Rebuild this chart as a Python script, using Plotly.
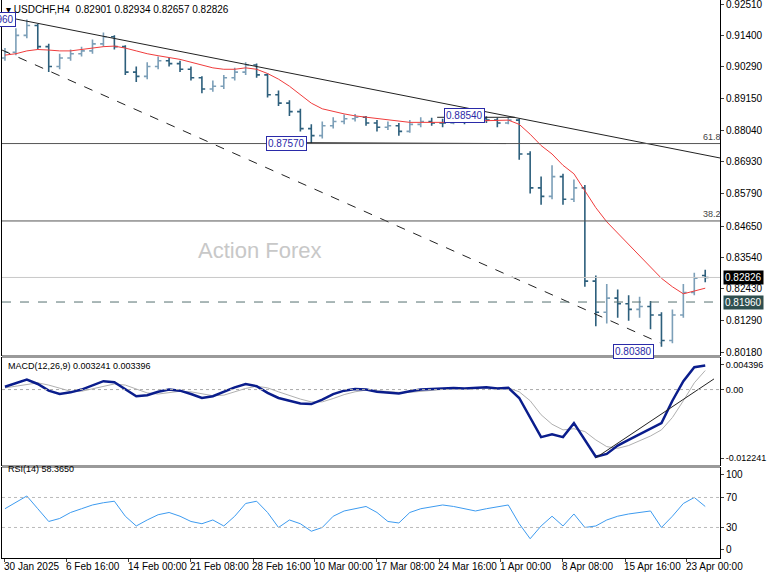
import plotly.graph_objects as go

# ---- data (one bar per trading day) ----
bar_idx = list(range(65))
close = [0.9080, 0.9140, 0.9175, 0.9100, 0.9030, 0.9060, 0.9075, 0.9085, 0.9110, 0.9135,
         0.9100, 0.9010, 0.8995, 0.9030, 0.9050, 0.9040, 0.9020, 0.8990, 0.8950, 0.8960,
         0.8990, 0.9010, 0.9035, 0.9000, 0.8930, 0.8900, 0.8870, 0.8810, 0.8785, 0.8820,
         0.8835, 0.8845, 0.8850, 0.8830, 0.8815, 0.8820, 0.8800, 0.8825, 0.8835, 0.8830,
         0.8830, 0.8840, 0.8835, 0.8845, 0.8840, 0.8830, 0.8840, 0.8720, 0.8600, 0.8570,
         0.8640, 0.8560, 0.8600, 0.8270, 0.8160, 0.8210, 0.8190, 0.8170, 0.8180, 0.8150,
         0.8060, 0.8150, 0.8230, 0.8280, 0.8283]
open_ = [0.9060, 0.9080, 0.9140, 0.9175, 0.9100, 0.9030, 0.9060, 0.9075, 0.9085, 0.9110,
         0.9135, 0.9100, 0.9010, 0.8995, 0.9030, 0.9050, 0.9040, 0.9020, 0.8990, 0.8950,
         0.8960, 0.8990, 0.9010, 0.9035, 0.9000, 0.8930, 0.8900, 0.8870, 0.8810, 0.8785,
         0.8820, 0.8835, 0.8845, 0.8850, 0.8830, 0.8815, 0.8820, 0.8800, 0.8825, 0.8835,
         0.8830, 0.8830, 0.8840, 0.8835, 0.8845, 0.8840, 0.8830, 0.8840, 0.8720, 0.8600,
         0.8570, 0.8640, 0.8560, 0.8600, 0.8270, 0.8160, 0.8210, 0.8190, 0.8170, 0.8180,
         0.8150, 0.8060, 0.8150, 0.8230, 0.8290]
high = [0.9095, 0.9165, 0.9196, 0.9180, 0.9110, 0.9075, 0.9090, 0.9100, 0.9125, 0.9150,
        0.9140, 0.9105, 0.9030, 0.9045, 0.9065, 0.9060, 0.9050, 0.9030, 0.8995, 0.8980,
        0.9000, 0.9025, 0.9045, 0.9040, 0.9005, 0.8945, 0.8910, 0.8880, 0.8825, 0.8835,
        0.8850, 0.8860, 0.8862, 0.8855, 0.8840, 0.8835, 0.8830, 0.8840, 0.8850, 0.8848,
        0.8845, 0.8850, 0.8848, 0.8852, 0.8854, 0.8848, 0.8850, 0.8845, 0.8730, 0.8640,
        0.8680, 0.8650, 0.8630, 0.8610, 0.8290, 0.8260, 0.8240, 0.8220, 0.8215, 0.8200,
        0.8160, 0.8170, 0.8260, 0.8300, 0.8310]
low = [0.9050, 0.9070, 0.9130, 0.9090, 0.9010, 0.9020, 0.9050, 0.9065, 0.9075, 0.9100,
       0.9090, 0.9000, 0.8975, 0.8985, 0.9020, 0.9030, 0.9010, 0.8980, 0.8935, 0.8940,
       0.8950, 0.8980, 0.9000, 0.8990, 0.8920, 0.8890, 0.8855, 0.8800, 0.8757, 0.8775,
       0.8810, 0.8825, 0.8835, 0.8820, 0.8800, 0.8805, 0.8785, 0.8795, 0.8815, 0.8820,
       0.8815, 0.8825, 0.8825, 0.8830, 0.8830, 0.8815, 0.8825, 0.8700, 0.8580, 0.8540,
       0.8560, 0.8540, 0.8550, 0.8250, 0.8110, 0.8120, 0.8140, 0.8130, 0.8140, 0.8100,
       0.8038, 0.8050, 0.8140, 0.8220, 0.8266]
ma = [0.9070, 0.9075, 0.9085, 0.9090, 0.9088, 0.9085, 0.9085, 0.9090, 0.9095, 0.9100,
      0.9102, 0.9095, 0.9085, 0.9075, 0.9068, 0.9062, 0.9055, 0.9045, 0.9035, 0.9025,
      0.9020, 0.9020, 0.9025, 0.9020, 0.9005, 0.8985, 0.8960, 0.8930, 0.8900, 0.8880,
      0.8870, 0.8862, 0.8855, 0.8850, 0.8845, 0.8840, 0.8835, 0.8832, 0.8832, 0.8832,
      0.8832, 0.8835, 0.8836, 0.8838, 0.8840, 0.8840, 0.8840, 0.8825, 0.8790, 0.8750,
      0.8720, 0.8680, 0.8650, 0.8590, 0.8530, 0.8480, 0.8440, 0.8400, 0.8360, 0.8320,
      0.8280, 0.8250, 0.8225, 0.8235, 0.8245]
macd = [0.0005, 0.0012, 0.0018, 0.0010, -0.0002, -0.0008, -0.0005, 0.0000, 0.0008, 0.0015,
        0.0013, 0.0000, -0.0012, -0.0010, -0.0004, 0.0000, -0.0002, -0.0008, -0.0015, -0.0012,
        -0.0004, 0.0004, 0.0010, 0.0006, -0.0006, -0.0015, -0.0020, -0.0025, -0.0026, -0.0018,
        -0.0008, -0.0002, 0.0001, 0.0000, -0.0004, -0.0006, -0.0007, -0.0003, 0.0000, 0.0001,
        0.0002, 0.0003, 0.0002, 0.0003, 0.0004, 0.0002, 0.0003, -0.0015, -0.0050, -0.0085,
        -0.0080, -0.0085, -0.0060, -0.0090, -0.0120, -0.0115, -0.0100, -0.0090, -0.0080, -0.0070,
        -0.0060, -0.0020, 0.0015, 0.0040, 0.0043]
signal = [0.0003, 0.0006, 0.0010, 0.0012, 0.0008, 0.0002, -0.0003, -0.0003, 0.0001, 0.0006,
          0.0010, 0.0008, 0.0001, -0.0006, -0.0008, -0.0005, -0.0003, -0.0004, -0.0008, -0.0011,
          -0.0010, -0.0004, 0.0002, 0.0006, 0.0003, -0.0004, -0.0011, -0.0017, -0.0022, -0.0022,
          -0.0016, -0.0009, -0.0004, -0.0001, -0.0002, -0.0004, -0.0005, -0.0005, -0.0003, -0.0001,
          0.0001, 0.0002, 0.0002, 0.0003, 0.0003, 0.0003, 0.0003, -0.0004, -0.0020, -0.0045,
          -0.0062, -0.0072, -0.0070, -0.0075, -0.0090, -0.0102, -0.0105, -0.0100, -0.0092, -0.0083,
          -0.0072, -0.0050, -0.0020, 0.0012, 0.0034]
rsi = [55, 63, 72, 55, 38, 42, 50, 55, 60, 63,
       65, 45, 32, 40, 47, 50, 45, 38, 35, 40,
       32, 45, 62, 65, 50, 30, 40, 35, 25, 30,
       45, 52, 55, 58, 50, 38, 36, 50, 55, 58,
       60, 58, 55, 52, 55, 58, 60, 35, 15, 32,
       45, 32, 48, 30, 32, 40, 45, 48, 50, 52,
       30, 45, 62, 70, 58]

price_ticks = [0.92510, 0.91400, 0.90290, 0.89150, 0.88040, 0.86930, 0.85790,
               0.84650, 0.83540, 0.82430, 0.81290, 0.80180]
date_pos = [0, 5.67, 11.33, 17, 22.67, 28.33, 34, 39.67, 45.33, 51, 56.67, 62.33]
date_labels = ["30 Jan 2025", "6 Feb 16:00", "14 Feb 00:00", "21 Feb 08:00", "28 Feb 16:00",
               "10 Mar 00:00", "17 Mar 08:00", "24 Mar 16:00", "1 Apr 00:00", "8 Apr 08:00",
               "15 Apr 16:00", "23 Apr 00:00"]

# drawn lines (bar index, price)
trend_top = [(0.46, 0.9202), (65.35, 0.8706)]
trend_dash = [(-0.27, 0.9088), (59.9, 0.8051)]
macd_trend = [(54.0, -0.0122), (64.8, 0.0019)]
fib_levels = [(0.8757, "61.8"), (0.8483, "38.2")]

FONT = "Liberation Sans"
X_RANGE = [-0.27, 65.35]
PH = 558.0  # plot area height in px (bottom margin holds the dates)


def py(y):
    return 1 - y / PH


fig = go.Figure()

fig.add_trace(go.Ohlc(
    x=bar_idx, open=open_, high=high, low=low, close=close,
    increasing_line_color="#7c9fb8", decreasing_line_color="#2d5f7c",
    line_width=1.6, tickwidth=0.3, xaxis="x", yaxis="y"))
fig.add_trace(go.Scatter(x=bar_idx, y=ma, mode="lines", line=dict(color="#f03c3c", width=1),
                         xaxis="x", yaxis="y"))
fig.add_trace(go.Scatter(x=bar_idx, y=signal, mode="lines", line=dict(color="#b0b0b0", width=1),
                         xaxis="x2", yaxis="y2"))
fig.add_trace(go.Scatter(x=bar_idx, y=macd, mode="lines", line=dict(color="#0a1d8c", width=2.5),
                         xaxis="x2", yaxis="y2"))
fig.add_trace(go.Scatter(x=bar_idx, y=rsi, mode="lines", line=dict(color="#3d9bf0", width=1),
                         xaxis="x3", yaxis="y3"))

axis_common = dict(showgrid=False, zeroline=False, showline=True, linecolor="black",
                   mirror=True, linewidth=1)
tickfont = dict(family=FONT, size=10, color="black")

shapes = []
shapes.append(dict(type="line", xref="x", yref="y", x0=trend_top[0][0], y0=trend_top[0][1],
                   x1=trend_top[1][0], y1=trend_top[1][1], line=dict(color="#222", width=1)))
shapes.append(dict(type="line", xref="x", yref="y", x0=trend_dash[0][0], y0=trend_dash[0][1],
                   x1=trend_dash[1][0], y1=trend_dash[1][1], line=dict(color="#222", width=1, dash="dash")))
shapes.append(dict(type="line", xref="x2", yref="y2", x0=macd_trend[0][0], y0=macd_trend[0][1],
                   x1=macd_trend[1][0], y1=macd_trend[1][1], line=dict(color="#222", width=1)))
shapes.append(dict(type="line", xref="x", yref="y", x0=27.6, x1=45.8, y0=0.8760, y1=0.8757,
                   line=dict(color="#222", width=1)))
shapes.append(dict(type="line", xref="x", yref="y", x0=39.5, x1=46.6, y0=0.8850, y1=0.8850,
                   line=dict(color="#222", width=1)))
for lvl, _ in fib_levels:
    shapes.append(dict(type="line", xref="x domain", yref="y", x0=0, x1=1, y0=lvl, y1=lvl,
                       line=dict(color="#555", width=1)))
shapes.append(dict(type="line", xref="x domain", yref="y", x0=0, x1=1, y0=close[-1], y1=close[-1],
                   line=dict(color="#c8c8c8", width=1)))
shapes.append(dict(type="line", xref="x domain", yref="y", x0=0, x1=1, y0=0.8196, y1=0.8196,
                   line=dict(color="#557070", width=1, dash="dash")))
shapes.append(dict(type="line", xref="x2 domain", yref="y2", x0=0, x1=1, y0=0, y1=0,
                   line=dict(color="#aaa", width=1, dash="dot")))
for lv in (70, 30):
    shapes.append(dict(type="line", xref="x3 domain", yref="y3", x0=0, x1=1, y0=lv, y1=lv,
                       line=dict(color="#bbb", width=1, dash="dot")))
# grey separators between panels
for y0, y1 in ((355, 358), (465, 468)):
    shapes.append(dict(type="rect", xref="paper", yref="paper", x0=0, x1=1, y0=py(y1), y1=py(y0),
                       fillcolor="#9a9a9a", line_width=0))

ann = []
ann.append(dict(xref="paper", yref="paper", x=0.003, y=py(10), xanchor="left", yanchor="middle",
                text="▾ USDCHF,H4  0.82901 0.82934 0.82657 0.82826", showarrow=False,
                font=dict(family=FONT, size=10, color="black")))
ann.append(dict(xref="x", yref="y", x=23.3, y=0.8380, text="Action Forex", showarrow=False,
                font=dict(family=FONT, size=22, color="#c8c8c8")))
for lvl, txt in fib_levels:
    ann.append(dict(xref="x", yref="y", x=64.6, y=lvl, yanchor="bottom", text=txt, showarrow=False,
                    font=dict(family=FONT, size=9, color="#444")))
box = dict(bordercolor="#2a2aa8", borderwidth=1, bgcolor="white", borderpad=1,
           font=dict(family=FONT, size=10, color="#2a2aa8"), showarrow=False)
ann.append(dict(xref="x", yref="y", x=27.6, y=0.8757, xanchor="right", text="0.87570", **box))
ann.append(dict(xref="x", yref="y", x=43.9, y=0.8857, xanchor="right", text="0.88540", **box))
ann.append(dict(xref="x", yref="y", x=59.3, y=0.8022, xanchor="right", text="0.80380", **box))
ann.append(dict(xref="x", yref="y", x=1.0, y=0.9196, xanchor="right", text="0.91960", **box))
ann.append(dict(xref="paper", yref="y", x=1.004, y=close[-1], xanchor="left", text="0.82826",
                showarrow=False, bgcolor="black", font=dict(family=FONT, size=10, color="white")))
ann.append(dict(xref="paper", yref="y", x=1.004, y=0.8196, xanchor="left", text="0.81960",
                showarrow=False, bgcolor="#2f4f4f", font=dict(family=FONT, size=10, color="white")))
# top price label sits at the very edge, so place it by hand
ann.append(dict(xref="paper", yref="y", x=1.006, y=price_ticks[0], xanchor="left", yanchor="middle",
                text=f"{price_ticks[0]:.5f}", showarrow=False, font=tickfont))
# date labels start at their tick, as in the terminal
for pos, lab in zip(date_pos, date_labels):
    ann.append(dict(xref="x3", yref="paper", x=pos, y=0, xanchor="left", yanchor="top",
                    xshift=-3, yshift=-1, text=lab, showarrow=False, font=tickfont))
ann.append(dict(xref="paper", yref="paper", x=0.006, y=py(366), xanchor="left",
                text="MACD(12,26,9) 0.003241 0.003396", showarrow=False,
                font=dict(family=FONT, size=9, color="black")))
ann.append(dict(xref="paper", yref="paper", x=0.006, y=py(476), xanchor="left",
                text="RSI(14) 58.3650", showarrow=False, font=dict(family=FONT, size=9, color="black")))

fig.update_layout(
    width=768, height=576, margin=dict(l=2, r=48, t=0, b=18, autoexpand=False),
    paper_bgcolor="white", plot_bgcolor="white", showlegend=False,
    shapes=shapes, annotations=ann,
    xaxis=dict(domain=[0, 1], range=X_RANGE, anchor="y", showticklabels=False,
               rangeslider=dict(visible=False), **axis_common),
    xaxis2=dict(domain=[0, 1], range=X_RANGE, anchor="y2", showticklabels=False, **axis_common),
    xaxis3=dict(domain=[0, 1], range=X_RANGE, anchor="y3", tickvals=date_pos,
                showticklabels=False, ticks="outside", ticklen=3, **axis_common),
    yaxis=dict(domain=[py(355), 1], range=[0.80085, 0.92652], side="right", anchor="x",
               tickvals=price_ticks, ticktext=[f"{v:.5f}" for v in price_ticks],
               ticks="outside", ticklen=3, tickfont=tickfont, **axis_common),
    yaxis2=dict(domain=[py(465), py(358)], range=[-0.01348, 0.00564], side="right",
                anchor="x2", tickvals=[0.004396, 0.0, -0.012241],
                ticktext=["0.004396", "0.00", "-0.012241"], ticks="outside", ticklen=3,
                tickfont=dict(family=FONT, size=9, color="black"), **axis_common),
    yaxis3=dict(domain=[0, py(468)], range=[-10.7, 109.3], side="right",
                anchor="x3", tickvals=[100, 70, 30, 0], ticks="outside", ticklen=3,
                tickfont=tickfont, **axis_common),
)

fig.write_html("out.html", config={"displayModeBar": False},
               post_script="document.body.style.margin='0';document.body.style.overflow='hidden';")
